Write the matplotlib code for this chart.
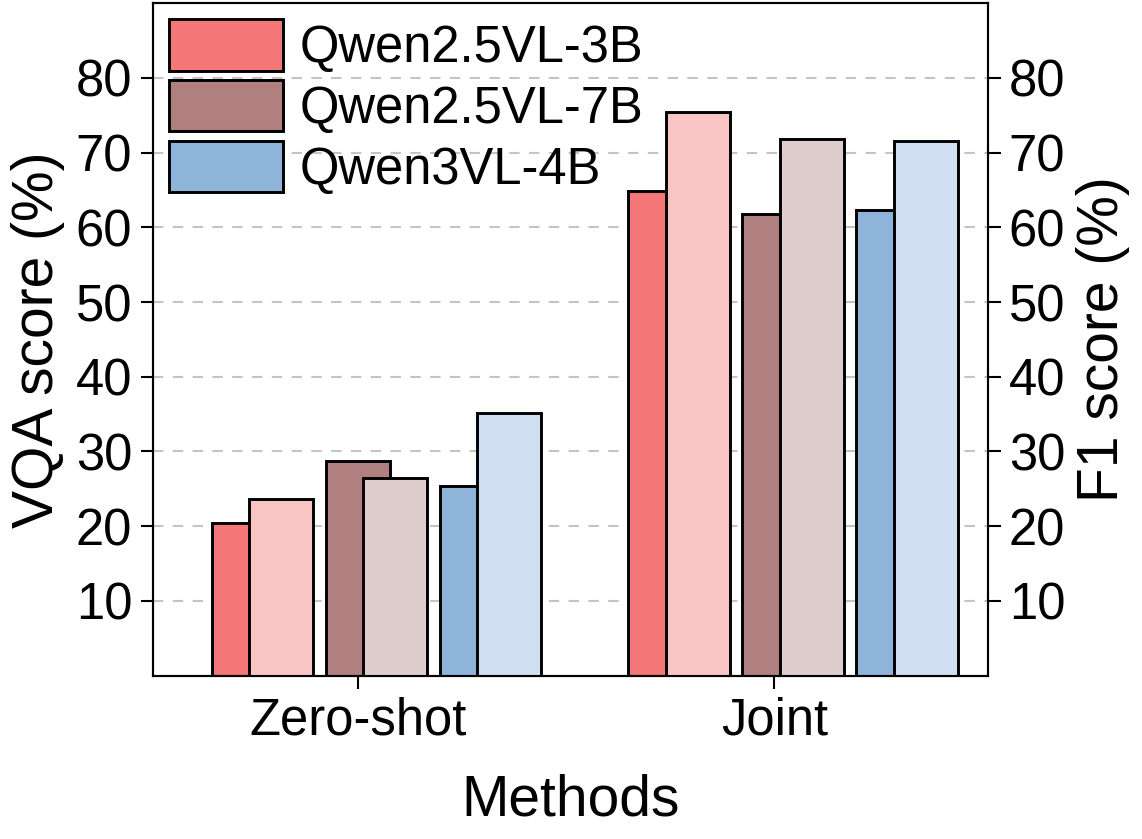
import numpy as np
import matplotlib
matplotlib.use("Agg")
import matplotlib.pyplot as plt

# Scores
methods = ["Zero-shot", "Joint"]
models = ["Qwen2.5VL-3B", "Qwen2.5VL-7B", "Qwen3VL-4B"]
vqa_scores = {
    "Qwen2.5VL-3B": [20.5, 64.9],
    "Qwen2.5VL-7B": [28.7, 61.8],
    "Qwen3VL-4B": [25.4, 62.3],
}
f1_scores = {
    "Qwen2.5VL-3B": [23.7, 75.4],
    "Qwen2.5VL-7B": [26.5, 71.8],
    "Qwen3VL-4B": [35.1, 71.5],
}
yticks = [10, 20, 30, 40, 50, 60, 70, 80]

dark_colors = ["#F47676", "#B08080", "#8FB4D9"]
light_colors = ["#F9C4C4", "#DECDCD", "#CFDEF0"]

plt.rcParams['font.family'] = ['Liberation Sans', 'DejaVu Sans']
plt.rcParams['font.size'] = 36.5

fig = plt.figure(figsize=(11.42, 8.39), dpi=100)
ax = fig.add_axes([0.134, 0.1946, 0.731, 0.8018])
ax2 = ax.twinx()

x = np.arange(len(methods))
width = 0.154
step = 0.2734
shift = 0.09

for i, m in enumerate(models):
    pos = x + (i - 1) * step
    ax.bar(pos, vqa_scores[m], width, color=dark_colors[i], edgecolor="black",
           linewidth=2.1, label=m, zorder=2)
    ax2.bar(pos + shift, f1_scores[m], width, color=light_colors[i],
            edgecolor="black", linewidth=2.1, zorder=2)

for a in (ax, ax2):
    a.set_ylim(0, 90)
    a.set_yticks(yticks)
    a.tick_params(axis='both', length=9, width=1.5, pad=6)
    for s in a.spines.values():
        s.set_linewidth(1.5)

ax.set_xlim(-0.491, 1.512)
ax.set_xticks(x)
ax.set_xticklabels(methods)
ax.set_axisbelow(True)
ax.yaxis.grid(True, linestyle=(0, (5, 4.5)), color="#c4c4c4", linewidth=1.5)

ax.set_ylabel("VQA score (%)", fontsize=41, labelpad=8)
ax2.set_ylabel("F1 score (%)", fontsize=41, labelpad=8)
ax.set_xlabel("Methods", fontsize=41, labelpad=20)

ax.legend(loc="upper left", frameon=False, fontsize=36.5, handlelength=2.25,
          handleheight=1.18, handletextpad=0.32, labelspacing=0.14,
          borderaxespad=0.0, borderpad=0.32)

fig.savefig("out.png", dpi=100)
